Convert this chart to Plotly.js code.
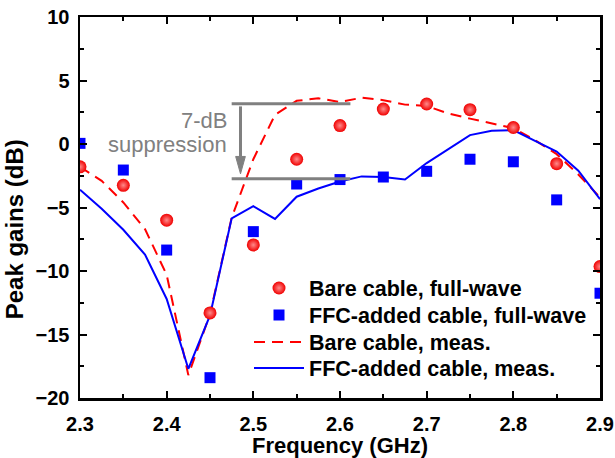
<!DOCTYPE html>
<html>
<head>
<meta charset="utf-8">
<script src="https://cdn.plot.ly/plotly-3.0.1.min.js"></script>
<style>
  html, body { margin: 0; padding: 0; background: #fff; }
  #chart { width: 615px; height: 458px; }
</style>
</head>
<body>
<div id="chart"></div>
<script>
// Full-wave simulation points (0.05 GHz step)
const simFreq = [2.30, 2.35, 2.40, 2.45, 2.50, 2.55, 2.60, 2.65, 2.70, 2.75, 2.80, 2.85, 2.90];
const bareFullWave = [-1.8, -3.25, -6.0, -13.3, -7.95, -1.2, 1.45, 2.75, 3.15, 2.7, 1.3, -1.55, -9.65];
const ffcFullWave = [0.05, -2.05, -8.35, -18.4, -6.9, -3.15, -2.8, -2.6, -2.15, -1.2, -1.4, -4.4, -11.75];

// Measured curves (0.025 GHz step)
const measFreq = [2.300, 2.325, 2.350, 2.375, 2.400, 2.425, 2.450, 2.475, 2.500, 2.525,
                  2.550, 2.575, 2.600, 2.625, 2.650, 2.675, 2.700, 2.725, 2.750, 2.775,
                  2.800, 2.825, 2.850, 2.875, 2.900];
const bareMeas = [-1.8, -2.9, -4.6, -6.7, -10.3, -18.2, -13.4, -5.8, -1.2, 2.3,
                  3.4, 3.6, 3.3, 3.65, 3.45, 3.1, 3.0, 2.4, 2.0, 1.6,
                  1.25, 0.3, -0.8, -2.4, -4.2];
const ffcMeas = [-3.6, -5.1, -6.75, -8.7, -12.2, -17.7, -13.5, -5.85, -4.9, -5.9,
                 -4.15, -3.5, -2.95, -2.55, -2.6, -2.8, -1.5, -0.4, 0.7, 1.05,
                 1.1, 0.25, -0.6, -2.1, -4.35];

// Suppression bracket levels (dB) and span (GHz)
const bracketTop = 3.16;
const bracketBottom = -2.74;
const bracketStart = 2.475;
const bracketEnd = 2.612;
const arrowX = 2.4852;

const seriesNames = [
  'Bare cable, full-wave',
  'FFC-added cable, full-wave',
  'Bare cable, meas.',
  'FFC-added cable, meas.'
];

const FONT = 'Liberation Sans, Arial, Helvetica, sans-serif';
const RED = '#ff0000';
const BLUE = '#0000ff';
const GRAY = '#808080';

// Each series gets its own one-row legend so the rows can be spaced freely
const traces = [
  {
    x: measFreq, y: bareMeas, name: seriesNames[2], type: 'scatter', mode: 'lines',
    line: { color: RED, width: 2, dash: '11px,7px' }, legend: 'legend3'
  },
  {
    x: measFreq, y: ffcMeas, name: seriesNames[3], type: 'scatter', mode: 'lines',
    line: { color: BLUE, width: 2 }, legend: 'legend4'
  },
  {
    x: simFreq, y: bareFullWave, name: seriesNames[0], type: 'scatter', mode: 'markers',
    marker: { symbol: 'circle', size: 13, color: '#f00000',
              gradient: { type: 'radial', color: '#ff8a8a' },
              line: { width: 0 } },
    legend: 'legend'
  },
  {
    x: simFreq, y: ffcFullWave, name: seriesNames[1], type: 'scatter', mode: 'markers',
    marker: { symbol: 'square', size: 11, color: BLUE, line: { width: 0 } },
    legend: 'legend2'
  }
];

// Arrowhead size in axis units
const headHalfWidth = 0.0056;
const headTipY = bracketBottom + 0.39;
const headBaseY = headTipY + 1.37;

const axisCommon = {
  showline: true, linecolor: '#000', linewidth: 2.5, mirror: 'allticks',
  ticks: 'inside', ticklen: 7, tickwidth: 2, tickcolor: '#000',
  showgrid: false, zeroline: false,
  tickfont: { family: FONT, size: 20, color: '#000', weight: 'bold' }
};

function legendRow(yPaper) {
  return {
    x: 0.325, y: yPaper, xanchor: 'left', yanchor: 'middle',
    bgcolor: 'rgba(0,0,0,0)', borderwidth: 0, itemwidth: 50,
    font: { family: FONT, size: 21.5, color: '#000', weight: 'bold' }
  };
}

const layout = {
  width: 615, height: 458,
  margin: { l: 80, r: 15, t: 17, b: 60 },
  paper_bgcolor: '#fff', plot_bgcolor: '#fff',
  showlegend: true,
  legend: legendRow(0.2887),
  legend2: legendRow(0.2178),
  legend3: legendRow(0.1470),
  legend4: legendRow(0.0787),
  xaxis: Object.assign({}, axisCommon, {
    range: [2.3, 2.9], tick0: 2.3, dtick: 0.1, tickformat: '.1f',
    ticklabelstandoff: 6,
    minor: { dtick: 0.05, ticks: 'inside', ticklen: 4, tickwidth: 2, tickcolor: '#000', showgrid: false },
    title: { text: 'Frequency (GHz)', standoff: 9,
             font: { family: FONT, size: 22, color: '#000', weight: 'bold' } }
  }),
  yaxis: Object.assign({}, axisCommon, {
    range: [-20, 10], tick0: -20, dtick: 5,
    ticklabelstandoff: 4,
    minor: { dtick: 2.5, ticks: 'inside', ticklen: 4, tickwidth: 2, tickcolor: '#000', showgrid: false }
  }),
  shapes: [
    { type: 'line', xref: 'x', yref: 'y', x0: bracketStart, x1: bracketEnd, y0: bracketTop, y1: bracketTop,
      line: { color: GRAY, width: 3 } },
    { type: 'line', xref: 'x', yref: 'y', x0: bracketStart, x1: bracketEnd, y0: bracketBottom, y1: bracketBottom,
      line: { color: GRAY, width: 3 } },
    { type: 'line', xref: 'x', yref: 'y', x0: arrowX, x1: arrowX, y0: bracketTop - 0.2, y1: headBaseY,
      line: { color: GRAY, width: 3 } },
    { type: 'path', xref: 'x', yref: 'y',
      path: 'M ' + (arrowX - headHalfWidth) + ',' + headBaseY +
            ' L ' + (arrowX + headHalfWidth) + ',' + headBaseY +
            ' L ' + arrowX + ',' + headTipY + ' Z',
      fillcolor: GRAY, line: { color: GRAY, width: 1 } }
  ],
  annotations: [
    { text: '7-dB', xref: 'x', yref: 'y', x: 2.4715, y: 1.88, xanchor: 'right', yanchor: 'middle',
      showarrow: false, font: { family: FONT, size: 22, color: GRAY } },
    { text: 'suppression', xref: 'x', yref: 'y', x: 2.4715, y: 0.0, xanchor: 'right', yanchor: 'middle',
      showarrow: false, font: { family: FONT, size: 22, color: GRAY } },
    { text: 'Peak gains (dB)', xref: 'paper', yref: 'paper', x: -0.1244, y: 0.4436,
      xanchor: 'center', yanchor: 'middle', textangle: -90, showarrow: false,
      font: { family: FONT, size: 24, color: '#000', weight: 'bold' } }
  ]
};

Plotly.newPlot('chart', traces, layout, { displayModeBar: false, staticPlot: true });
</script>
</body>
</html>
